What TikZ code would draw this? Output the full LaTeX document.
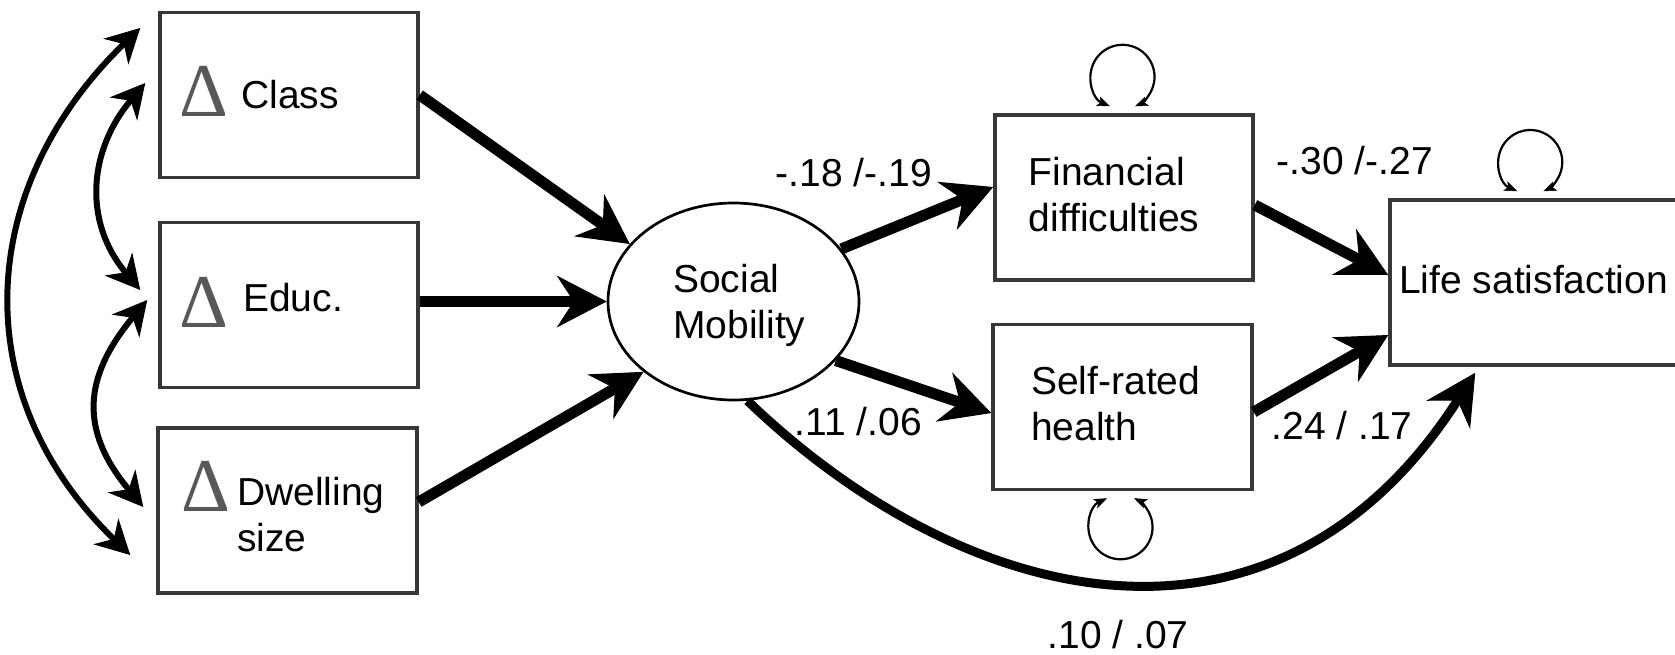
\documentclass[tikz,border=0pt]{standalone}
\usepackage{fontspec}
\setmainfont{Liberation Sans}
\newfontfamily\deltafont{Liberation Serif}
\usetikzlibrary{arrows.meta,shapes.geometric}
\definecolor{boxgray}{RGB}{55,55,55}
\definecolor{deltagray}{RGB}{88,88,88}
\begin{document}
\begin{tikzpicture}[x=1pt,y=1pt,
  varbox/.style={draw=boxgray, line width=3.5pt, minimum width=258pt, minimum height=165pt, inner sep=0pt},
  lbl/.style={font=\fontsize{39}{46.5}\selectfont, inner sep=0pt, anchor=base west},
  tri/.style={font=\deltafont\fontsize{76}{76}\selectfont, text=deltagray, inner sep=0pt, anchor=base west},
  regarrow/.style={line width=11pt, -{Stealth[length=50pt,width=52pt,inset=17pt,line width=1pt]}},
  directarrow/.style={line width=9pt, -{Stealth[length=50pt,width=52pt,inset=17pt,line width=1pt]}},
  cov/.style={line width=6pt, {Stealth[length=34pt,width=36pt,inset=11pt,line width=1pt]}-{Stealth[length=34pt,width=36pt,inset=11pt,line width=1pt]}},
  resid/.style={line width=2.2pt, {Stealth[length=13pt,width=10pt,inset=3pt,line width=0.5pt]}-{Stealth[length=13pt,width=10pt,inset=3pt,line width=0.5pt]}},
]
\useasboundingbox (0,0) rectangle (1675,-654);
\clip (0,0) rectangle (1675,-654);

% boxes
\node[varbox] (class) at (289,-95) {};
\node[varbox] (educ) at (289,-305) {};
\node[varbox, minimum width=259pt] (dwell) at (287.5,-510.5) {};
\node[draw, ellipse, line width=2.7pt, minimum width=251pt, minimum height=197pt, inner sep=0pt] (sm) at (733.5,-301.5) {};
\node[varbox] (fin) at (1124,-197.5) {};
\node[varbox, minimum width=259pt] (self) at (1122.5,-407) {};
\node[varbox, minimum width=310pt] (life) at (1545,-282.5) {};

% texts
\node[tri] (classD) at (179,-116) {Δ};
\node[lbl] (classT) at (241,-108) {Class};
\node[tri] (educD) at (179,-327) {Δ};
\node[lbl] (educT) at (243,-311) {Educ.};
\node[tri] (dwellD) at (181,-511) {Δ};
\node[lbl] (dwellT) at (237,-505) {\begin{tabular}[t]{@{}l@{}}Dwelling\\size\end{tabular}};
\node[lbl] (smT) at (673,-292) {\begin{tabular}[t]{@{}l@{}}Social\\Mobility\end{tabular}};
\node[lbl] (finT) at (1028.5,-185) {\begin{tabular}[t]{@{}l@{}}Financial\\difficulties\end{tabular}};
\node[lbl] (selfT) at (1031,-394) {\begin{tabular}[t]{@{}l@{}}Self-rated\\health\end{tabular}};
\node[lbl] (lifeT) at (1399,-293) {Life satisfaction};

% coefficient labels
\node[lbl] (l1) at (775.7,-186) {-.18 /-.19};
\node[lbl] (l2) at (794.5,-435) {.11 /.06};
\node[lbl] (l3) at (1276.7,-174) {-.30 /-.27};
\node[lbl] (l4) at (1271.5,-439) {.24 / .17};
\node[lbl] (l5) at (1047.5,-648) {.10 / .07};

% regression paths
\draw[regarrow] (class.east) -- (sm.151);
\draw[regarrow] (educ.east |- sm.west) -- (sm.west);
\draw[regarrow] ([yshift=8.5]dwell.east) -- (sm.218);
\draw[regarrow] (sm.26) -- ([yshift=10.5]fin.west);
\draw[regarrow] (sm.-30) -- ([yshift=-6]self.west);
\draw[regarrow] ([yshift=-7.5]fin.east) -- ([yshift=7.5]life.west);
\draw[regarrow] ([yshift=-5]self.east) -- ([yshift=-52.5]life.west);
\draw[directarrow] (sm.-82) .. controls +(222,-213) and +(-198,-308) .. ([shift={(87,-6)}]life.south west);

% covariances
\draw[cov] ([shift={(-18,67)}]class.west) .. controls +(-165,-160) and +(-165,160) .. ([shift={(-26,-44.5)}]dwell.west);
\draw[cov] ([shift={(-13,12)}]class.west) .. controls +(-57,-68) and +(-57,68) .. ([shift={(-18,15)}]educ.west);
\draw[cov] ([shift={(-11,5)}]educ.west) .. controls +(-64,-77) and +(-64,77) .. ([shift={(-13,3.5)}]dwell.west);

% residual variances
\draw[resid] ([shift={(-14,7)}]fin.north) arc[start angle=247, end angle=-67, radius=32];
\draw[resid] ([shift={(129,7)}]life.north west) arc[start angle=246, end angle=-66, radius=32];
\draw[resid] ([shift={(-15.5,-7)}]self.south) arc[start angle=115, end angle=425, radius=32];
\end{tikzpicture}
\end{document}
